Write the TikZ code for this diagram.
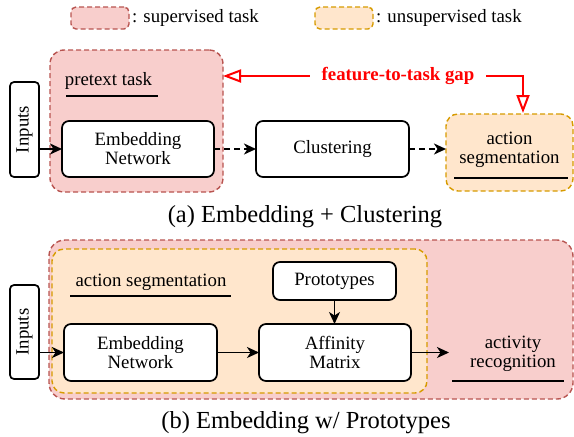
\documentclass[tikz,border=0pt]{standalone}
\usepackage{fontspec}
\setmainfont{Liberation Serif}
\usetikzlibrary{arrows.meta,calc}
\definecolor{supfill}{HTML}{F8CECC}
\definecolor{supdraw}{HTML}{B85450}
\definecolor{unsfill}{HTML}{FFE6CC}
\definecolor{unsdraw}{HTML}{D79B00}
\begin{document}
\begin{tikzpicture}[x=1pt,y=-1pt,
  every node/.style={font=\fontsize{18.8}{19}\selectfont, inner sep=0pt, outer sep=0pt},
  box/.style={draw=black, line width=1.7pt, rounded corners=7pt, fill=white, align=center},
  suparea/.style={draw=supdraw, fill=supfill, line width=1.4pt, dash pattern=on 5pt off 3pt, rounded corners=14pt},
  unsarea/.style={draw=unsdraw, fill=unsfill, line width=1.4pt, dash pattern=on 5pt off 3pt, rounded corners=12pt},
  uline/.style={draw=black, line width=1.6pt},
  arr/.style={draw=black, line width=1.8pt, -{Stealth[length=12pt, width=11pt, inset=3.5pt]}},
  darr/.style={arr, dash pattern=on 6pt off 4pt},
  redarr/.style={draw=red, line width=2pt, -{Triangle[open, length=18pt, width=13pt, line width=2pt]}},
  captxt/.style={font=\fontsize{24.5}{29}\selectfont},
  gaptxt/.style={font=\fontsize{18.8}{19}\selectfont\bfseries, text=red, inner xsep=12pt},
  inbox/.style={box, rounded corners=4pt, minimum width=29pt},
]
\useasboundingbox (0,0) rectangle (574,437);

% legend
\node[suparea, rounded corners=5pt, minimum width=58pt, minimum height=22pt] (legsup) at (100,18) {};
\node[anchor=west] (legsuptxt) at ([xshift=3pt]legsup.east) {: supervised task};
\node[unsarea, rounded corners=5pt, minimum width=58pt, minimum height=22pt] (leguns) at (344,18) {};
\node[anchor=west] (leguntxt) at ([xshift=3pt]leguns.east) {: unsupervised task};

% panel (a)
\node[suparea, minimum width=173pt, minimum height=142pt] (pretext) at (136.5,121) {};
\node (pretxt) at (108.5,81) {pretext task};
\draw[uline] (66,96) -- (158,96);
\node[inbox, minimum height=95pt] (inA) at (24.5,129.5) {\rotatebox{90}{Inputs}};
\node[box, minimum width=152pt, minimum height=56pt] (embA) at (138,149) {Embedding\\Network};
\node[box, minimum width=153pt, minimum height=56pt] (clu) at (332.5,149) {Clustering};
\node[unsarea, minimum width=127pt, minimum height=77pt] (actA) at (509.5,152.5) {};
\node[align=center] (actAtxt) at (509.5,150) {action\\segmentation};
\draw[uline] (454,178) -- (568,178);

\draw[arr] (inA.east |- embA.west) -- (embA.west);
\draw[darr] (embA.east) -- (clu.west);
\draw[darr] (clu.east) -- (clu.east -| actA.west);

\node[gaptxt] (gap) at (398,76) {feature-to-task gap};
\draw[redarr] (gap.west) -- (gap.west -| pretext.east);
\draw[redarr, shorten >=1pt] (gap.east) -| ([xshift=13.5pt]actA.north);

\node[captxt] (capA) at (305,217) {(a) Embedding + Clustering};

% panel (b)
\node[suparea, rounded corners=16pt, minimum width=524pt, minimum height=159pt] (outerB) at (311,319.5) {};
\node[unsarea, minimum width=375pt, minimum height=144pt] (innerB) at (239.5,321) {};
\node (asegtxt) at (151,282) {action segmentation};
\draw[uline] (70,296) -- (231,296);
\node[box, minimum width=123pt, minimum height=38pt] (proto) at (334.5,281) {Prototypes};
\node[inbox, minimum height=94pt] (inB) at (24.5,332) {\rotatebox{90}{Inputs}};
\node[box, minimum width=153pt, minimum height=57pt] (embB) at (140.5,352.5) {Embedding\\Network};
\node[box, minimum width=152pt, minimum height=57pt] (aff) at (335,352.5) {Affinity\\Matrix};
\node[align=center, minimum width=128pt] (act) at (513,354) {activity\\recognition};
\draw[uline] (452,381) -- (564,381);

\draw[arr] (inB.east |- embB.west) -- (embB.west);
\draw[arr] (embB.east) -- (aff.west);
\draw[arr] (aff.east) -- (aff.east -| act.west);
\draw[arr] (proto.south) -- (proto.south |- aff.north);

\node[captxt] (capB) at (306,423) {(b) Embedding w/ Prototypes};
\end{tikzpicture}
\end{document}
